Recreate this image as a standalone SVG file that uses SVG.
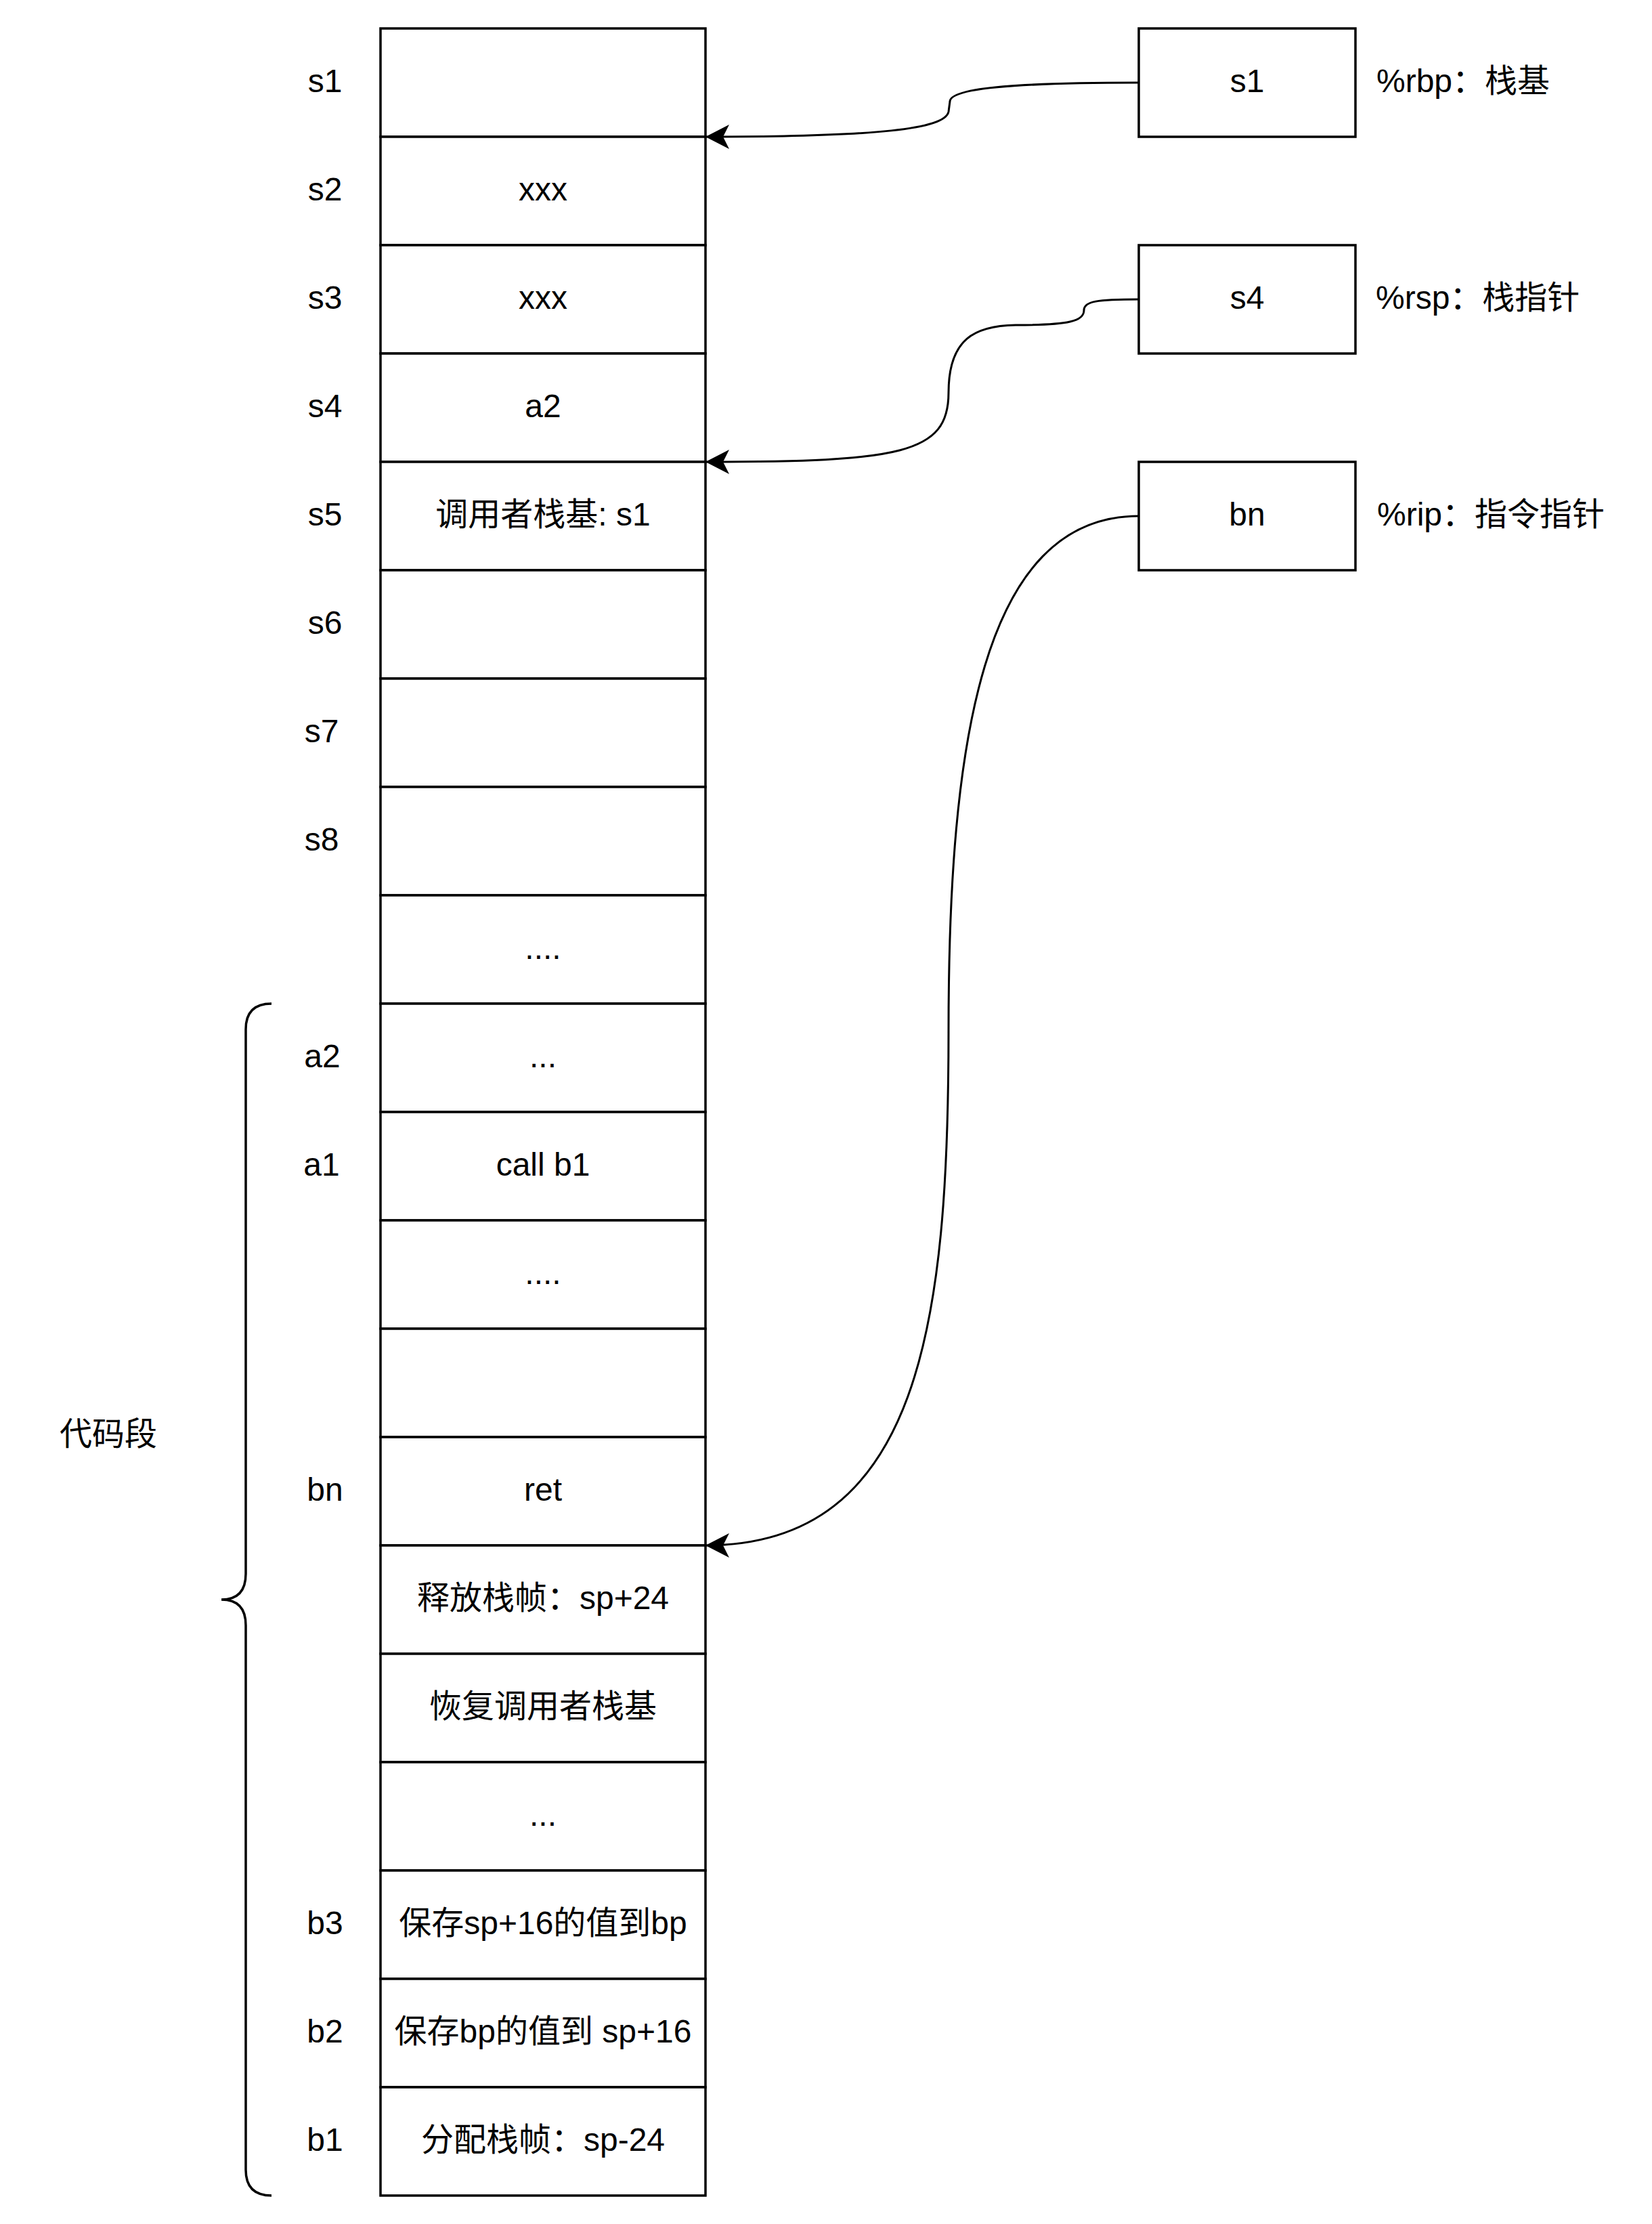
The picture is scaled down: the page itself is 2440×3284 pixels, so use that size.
<svg xmlns="http://www.w3.org/2000/svg" width="2440" height="3284" viewBox="0 0 2440 3284">
<style>
text{font-family:"Liberation Sans",Arial,"Noto Sans CJK SC",sans-serif;font-size:48px;fill:#000}
.c{text-anchor:middle}
.s{text-anchor:start}
.cell{fill:#fff;stroke:#000;stroke-width:3.5}
.edge{fill:none;stroke:#000;stroke-width:3}
.brace{fill:none;stroke:#000;stroke-width:3.5}
</style>
<defs>
<marker id="arr" markerUnits="userSpaceOnUse" viewBox="0 -20 40 40" refX="35" refY="0" markerWidth="40" markerHeight="40" orient="auto">
<path d="M0,-18 L35,0 L0,18 L9,0 Z" fill="#000"/>
</marker>
</defs>
<rect width="2440" height="3284" fill="#fff"/>

<g id="stack">
<g id="row-s1"><rect class="cell" x="562" y="42" width="480" height="160"/></g>
<g id="row-s2"><rect class="cell" x="562" y="202" width="480" height="160"/><text class="c" x="802" y="296">xxx</text></g>
<g id="row-s3"><rect class="cell" x="562" y="362" width="480" height="160"/><text class="c" x="802" y="456">xxx</text></g>
<g id="row-s4"><rect class="cell" x="562" y="522" width="480" height="160"/><text class="c" x="802" y="616">a2</text></g>
<g id="row-s5"><rect class="cell" x="562" y="682" width="480" height="160"/><text class="c" x="802" y="776">调用者栈基: s1</text></g>
<g id="row-s6"><rect class="cell" x="562" y="842" width="480" height="160"/></g>
<g id="row-s7"><rect class="cell" x="562" y="1002" width="480" height="160"/></g>
<g id="row-s8"><rect class="cell" x="562" y="1162" width="480" height="160"/></g>
<g id="row-dots1"><rect class="cell" x="562" y="1322" width="480" height="160"/><text class="c" x="802" y="1416">....</text></g>
<g id="row-a2"><rect class="cell" x="562" y="1482" width="480" height="160"/><text class="c" x="802" y="1576">...</text></g>
<g id="row-a1"><rect class="cell" x="562" y="1642" width="480" height="160"/><text class="c" x="802" y="1736">call b1</text></g>
<g id="row-dots2"><rect class="cell" x="562" y="1802" width="480" height="160"/><text class="c" x="802" y="1896">....</text></g>
<g id="row-empty"><rect class="cell" x="562" y="1962" width="480" height="160"/></g>
<g id="row-bn"><rect class="cell" x="562" y="2122" width="480" height="160"/><text class="c" x="802" y="2216">ret</text></g>
<g id="row-free"><rect class="cell" x="562" y="2282" width="480" height="160"/><text class="c" x="802" y="2376">释放栈帧：sp+24</text></g>
<g id="row-restore"><rect class="cell" x="562" y="2442" width="480" height="160"/><text class="c" x="802" y="2536">恢复调用者栈基</text></g>
<g id="row-dots3"><rect class="cell" x="562" y="2602" width="480" height="160"/><text class="c" x="802" y="2696">...</text></g>
<g id="row-b3"><rect class="cell" x="562" y="2762" width="480" height="160"/><text class="c" x="802" y="2856">保存sp+16的值到bp</text></g>
<g id="row-b2"><rect class="cell" x="562" y="2922" width="480" height="160"/><text class="c" x="802" y="3016">保存bp的值到 sp+16</text></g>
<g id="row-b1"><rect class="cell" x="562" y="3082" width="480" height="160"/><text class="c" x="802" y="3176">分配栈帧：sp-24</text></g>
</g>

<g id="row-labels">
<text class="c" x="480" y="136">s1</text>
<text class="c" x="480" y="296">s2</text>
<text class="c" x="480" y="456">s3</text>
<text class="c" x="480" y="616">s4</text>
<text class="c" x="480" y="776">s5</text>
<text class="c" x="480" y="936">s6</text>
<text class="c" x="475" y="1096">s7</text>
<text class="c" x="475" y="1256">s8</text>
<text class="c" x="476" y="1576">a2</text>
<text class="c" x="475" y="1736">a1</text>
<text class="c" x="480" y="2216">bn</text>
<text class="c" x="480" y="2856">b3</text>
<text class="c" x="480" y="3016">b2</text>
<text class="c" x="480" y="3176">b1</text>
</g>

<g id="code-segment">
<path class="brace" d="M401,1482 Q363,1482 363,1520 L363,2324 Q363,2362 327,2362 Q363,2362 363,2400 L363,3204 Q363,3242 401,3242"/>
<text class="c" x="160" y="2134">代码段</text>
</g>

<g id="reg-rbp">
<rect class="cell" x="1682" y="42" width="320" height="160"/>
<text class="c" x="1842" y="136">s1</text>
<text class="s" x="2033" y="136">%rbp：栈基</text>
</g>
<g id="reg-rsp">
<rect class="cell" x="1682" y="362" width="320" height="160"/>
<text class="c" x="1842" y="456">s4</text>
<text class="s" x="2032" y="456">%rsp：栈指针</text>
</g>
<g id="reg-rip">
<rect class="cell" x="1682" y="682" width="320" height="160"/>
<text class="c" x="1842" y="776">bn</text>
<text class="s" x="2034" y="776">%rip：指令指针</text>
</g>

<g id="connectors">
<path class="edge" marker-end="url(#arr)" d="M1682,122 C1520,122 1403,128 1403,150 L1401,165 C1396,190 1300,202 1042,202"/>
<path class="edge" marker-end="url(#arr)" d="M1682,442 C1620,442 1601,445 1601,458 C1601,474 1580,480 1500,480 C1440,481 1401,500 1401,580 C1401,670 1330,682 1042,682"/>
<path class="edge" marker-end="url(#arr)" d="M1682,762 C1450,762 1401,1100 1401,1522 C1401,1950 1360,2282 1042,2282"/>
</g>
</svg>
